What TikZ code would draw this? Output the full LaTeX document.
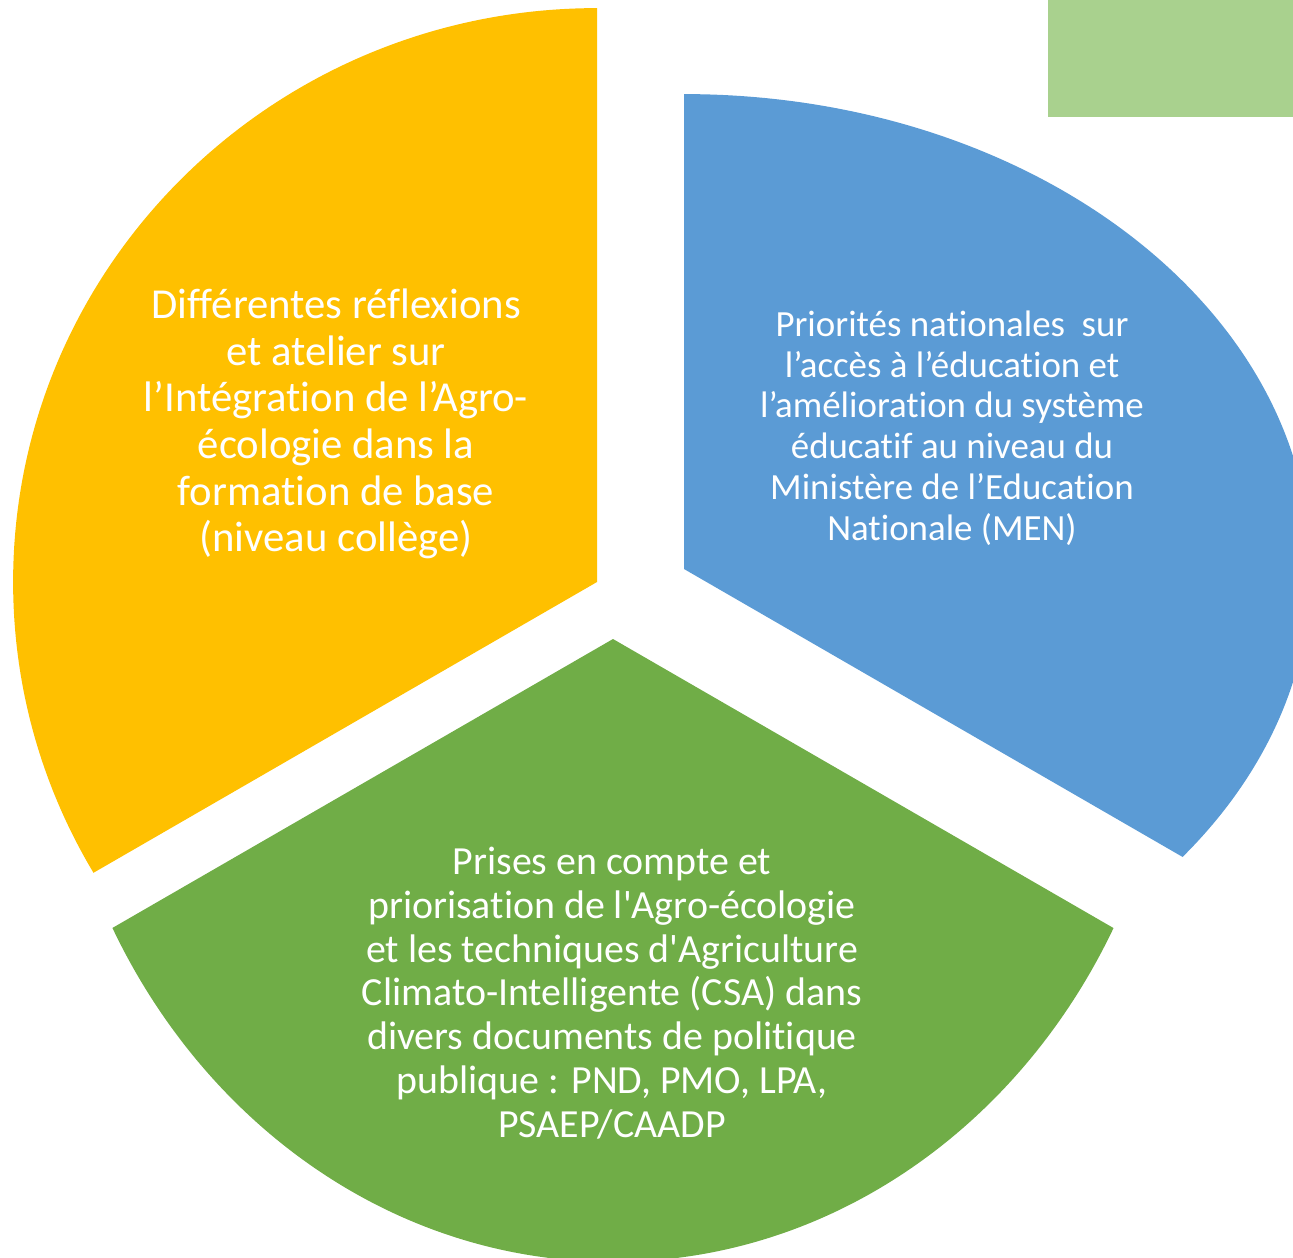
\documentclass[tikz,border=0pt]{standalone}
\usepackage{fontspec}
\setmainfont{Carlito}[Ligatures={TeX,NoCommon}]
\definecolor{cyellow}{HTML}{FFC000}
\definecolor{cblue}{HTML}{5B9BD5}
\definecolor{cgreen}{HTML}{70AD47}
\definecolor{clight}{HTML}{A9D18E}
\begin{document}
\begin{tikzpicture}[x=0.02cm,y=-0.02cm,
  lbl/.style={text=white, align=center, inner sep=0pt}]
\useasboundingbox (0,0) rectangle (1293,1257);
\clip (0,0) rectangle (1293,1257);
% yellow sector
\begin{scope}
  \clip (597,582) -- (597,-200) -- (-300,-200) -- (-300,1100) -- cycle;
  \fill[cyellow] (597,582) ellipse [x radius=11.68cm, y radius=11.48cm];
\end{scope}
% blue sector
\begin{scope}
  \clip (684,569) -- (684,-200) -- (1600,-200) -- (1600,1098) -- cycle;
  \fill[cblue] (684,569) ellipse [x radius=12.54cm, y radius=9.5cm];
\end{scope}
% green sector
\begin{scope}
  \clip (613,639) -- (-300,1166) -- (-300,1600) -- (1600,1600) -- (1600,1209) -- cycle;
  \fill[cgreen] (613,639) ellipse [x radius=11.3cm, y radius=12.46cm];
\end{scope}
% light green rectangle
\fill[clight] (1048,0) rectangle (1293,117);
% labels
\node[lbl, font={\fontsize{24.3pt}{26.6pt}\selectfont}] (ty) at (336,424)
  {Différentes réflexions\\et atelier sur\\l’Intégration de l’Agro-\\écologie dans la\\formation de base\\(niveau collège)};
\node[lbl, font={\fontsize{21pt}{23.2pt}\selectfont}] (tb) at (952,428)
  {Priorités nationales\ \ sur\\l’accès à l’éducation et\\l’amélioration du système\\éducatif au niveau du\\Ministère de l’Education\\Nationale (MEN)};
\node[lbl, font={\fontsize{22.7pt}{24.9pt}\selectfont}] (tg) at (612,993)
  {Prises en compte et\\priorisation de l\textquotesingle Agro-écologie\\et les techniques d\textquotesingle Agriculture\\Climato-Intelligente (CSA) dans\\divers documents de politique\\publique : PND, PMO, LPA,\\PSAEP/CAADP};
\end{tikzpicture}
\end{document}
